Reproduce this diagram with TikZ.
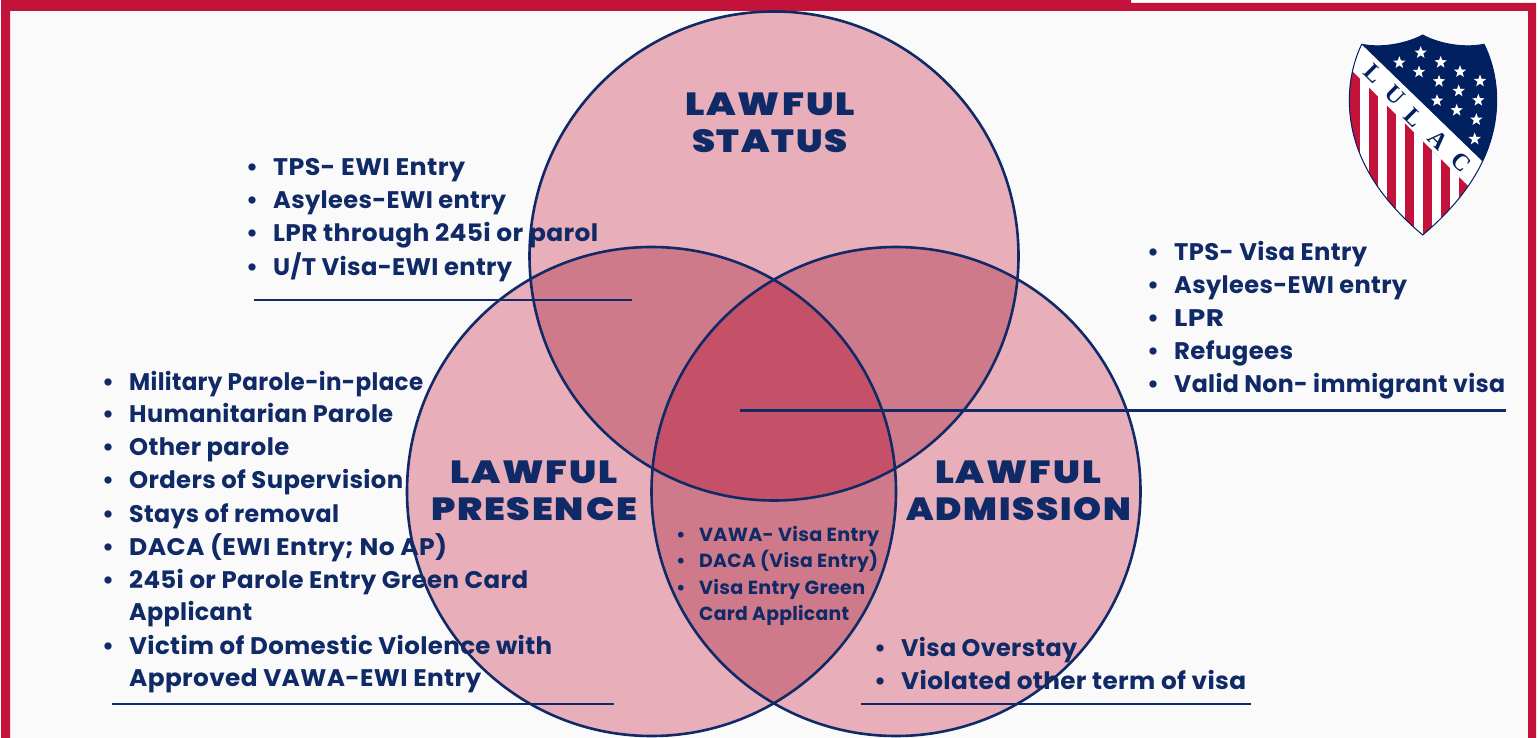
\documentclass[tikz,border=0pt]{standalone}
\usepackage{fontspec}
\setmainfont{Poppins}[BoldFont=* Bold,LetterSpace=1.5]
\newfontfamily\headfont{Poppins}[BoldFont=* Black,LetterSpace=5]
\newfontfamily\logofont{Liberation Serif}
\usetikzlibrary{shapes.geometric}
\definecolor{bord}{HTML}{C4133A}
\definecolor{paper}{HTML}{FAFAFA}
\definecolor{navy}{HTML}{0F2A66}
\definecolor{shieldblue}{HTML}{00205F}
\definecolor{one}{HTML}{E8AEB9}
\definecolor{two}{HTML}{CF7A8A}
\definecolor{three}{HTML}{C55169}
\newcounter{txt}
% [style] bullet x, baseline y, text x offset, right end x, text
\newcommand\fitw[3]{\resizebox{\dimexpr\numexpr#2-#1\relax pt\relax}{\height}{#3}}
\newcommand\lineitem[6][listtext]{\stepcounter{txt}\node[#1,name=t\arabic{txt}] at (#2,#3) {\hbox to #4pt{\hspace{-2pt}\textbullet\hfil}\fitw{\numexpr#2+#4\relax}{#5}{#6}};}
\newcommand\contline[6][listtext]{\stepcounter{txt}\node[#1,name=t\arabic{txt}] at (#2+#4,#3) {\fitw{\numexpr#2+#4\relax}{#5}{#6}};}
\newcommand\headline[5]{\node[headtext,name=#1] at (#3/2+#4/2,#2) {\fitw{#3}{#4}{#5}};}
\tikzset{
 listtext/.style={anchor=base west,inner sep=0pt,text=navy,font=\fontsize{24}{26}\selectfont\bfseries},
 smalltext/.style={anchor=base west,inner sep=0pt,text=navy,font=\fontsize{19}{20}\selectfont\bfseries},
 headtext/.style={anchor=base,inner sep=0pt,text=navy,font=\fontsize{32}{34}\headfont\bfseries},
 ring/.style={draw=navy,line width=2.6pt},
 leader/.style={draw=navy,line width=2.5pt},
 starmark/.style={star,star points=5,star point ratio=2.4,fill=white,draw=none,minimum size=13pt,inner sep=0pt},
}
\begin{document}
\begin{tikzpicture}[x=1pt,y=-1pt]
\useasboundingbox (0,0) rectangle (1538,738);
\fill[white] (0,0) rectangle (1538,738);
\fill[paper] (10,11) rectangle (1528,738);
% border
\fill[bord] (1,0) -- (1131,0) -- (1131,3) -- (1536,3) -- (1536,738) -- (1528,738) -- (1528,11) -- (10,11) -- (10,738) -- (1,738) -- cycle;
% circles
\def\ctop{(774,256) circle[radius=244.5]}
\def\cleft{(651.5,491.5) circle[radius=244.5]}
\def\cright{(896,491.5) circle[radius=244.5]}
\fill[one] \ctop; \fill[one] \cleft; \fill[one] \cright;
\begin{scope}\clip \ctop; \fill[two] \cleft; \fill[two] \cright; \end{scope}
\begin{scope}\clip \cleft; \fill[two] \cright; \end{scope}
\begin{scope}\clip \ctop; \clip \cleft; \fill[three] \cright; \end{scope}
\draw[ring] \ctop; \draw[ring] \cleft; \draw[ring] \cright;
% leaders
\coordinate (a1) at (254,300); \coordinate (a2) at (632,300);
\coordinate (b1) at (740,410.5); \coordinate (b2) at (1506,410.5);
\coordinate (c1) at (112,704); \coordinate (c2) at (614,704);
\coordinate (d1) at (861,704); \coordinate (d2) at (1251,704);
\draw[leader] (a1) -- (a2); \draw[leader] (b1) -- (b2); \draw[leader] (c1) -- (c2); \draw[leader] (d1) -- (d2);
% headings
\headline{h1}{116}{685}{855}{LAWFUL}
\headline{h2}{153}{692}{848}{STATUS}
\headline{h3}{483}{450}{618}{LAWFUL}
\headline{h4}{520}{431}{637}{PRESENCE}
\headline{h5}{483}{935}{1101}{LAWFUL}
\headline{h6}{520}{906}{1131}{ADMISSION}
% lists
\lineitem{248}{176}{25}{465}{TPS- EWI Entry}
\lineitem{248}{208}{25}{506}{Asylees-EWI entry}
\lineitem{248}{241}{25}{598}{LPR through 245i or parol}
\lineitem{248}{275}{25}{512}{U/T Visa-EWI entry}
\lineitem{1149}{260}{25}{1367}{TPS- Visa Entry}
\lineitem{1149}{293}{25}{1407}{Asylees-EWI entry}
\lineitem{1149}{326}{25}{1224}{LPR}
\lineitem{1149}{359}{25}{1293}{Refugees}
\lineitem{1149}{392}{25}{1505}{Valid Non- immigrant visa}
\lineitem{104}{390}{25}{423}{Military Parole-in-place}
\lineitem{104}{422}{25}{393}{Humanitarian Parole}
\lineitem{104}{455}{25}{289}{Other parole}
\lineitem{104}{488}{25}{403}{Orders of Supervision}
\lineitem{104}{522}{25}{339}{Stays of removal}
\lineitem{104}{555}{25}{447}{DACA (EWI Entry; No AP)}
\lineitem{104}{588}{25}{528}{245i or Parole Entry Green Card}
\contline{104}{620}{25}{252}{Applicant}
\lineitem{104}{654}{25}{552}{Victim of Domestic Violence with}
\contline{104}{686}{25}{481}{Approved VAWA-EWI Entry}
\lineitem{876}{656}{25}{1077}{Visa Overstay}
\lineitem{876}{689}{25}{1246}{Violated other term of visa}
\lineitem[smalltext]{678}{541}{21}{879}{VAWA- Visa Entry}
\lineitem[smalltext]{678}{567}{21}{878}{DACA (Visa Entry)}
\lineitem[smalltext]{678}{594}{21}{865}{Visa Entry Green}
\contline[smalltext]{678}{620}{21}{849}{Card Applicant}
% shield
\def\shieldpath{(1422.7,35) .. controls (1410,42) and (1385,49) .. (1361.7,44.3) .. controls (1354,60) and (1349.3,80) .. (1349.3,100) .. controls (1349.3,150) and (1375,195) .. (1422.7,235) .. controls (1470,195) and (1496.7,150) .. (1496.7,100) .. controls (1496.7,80) and (1492,60) .. (1484,44.3) .. controls (1460,49) and (1435,42) .. (1422.7,35) -- cycle}
\fill[white] \shieldpath;
\begin{scope}
\clip \shieldpath;
\fill[shieldblue] (1340,30) rectangle (1505,240);
% stripes field
\begin{scope}
\clip (1340,58) -- (1470,187.7) -- (1505,222) -- (1505,245) -- (1340,245) -- cycle;
\fill[white] (1340,30) rectangle (1505,245);
\fill[bord] (1340,30) rectangle (1359.5,245);
\foreach \sx in {1369,1386.7,1404.5,1422.7,1440.5,1458.5} {\fill[bord] (\sx,30) rectangle (\sx+9,245);}
\end{scope}
% band
\fill[white] (1358,41) -- (1345.3,64) -- (1470,187.7) -- (1495,185) -- (1482.7,161.7) -- cycle;
\end{scope}
\draw[shieldblue,line width=1pt] \shieldpath;
% stars
\foreach \zx/\zy [count=\i] in {362/158,298/188,422/187,357/216,480/215,540/243,417/244,476/273,535/301,411/302,470/331,529/359,524/417}
 {\node[starmark,name=s\i] at (1300+\zx/3,\zy/3) {};}
% letters
\tikzset{logoletter/.style={inner sep=0pt,text=shieldblue,rotate=-45,font=\fontsize{24}{26}\logofont\bfseries}}
\node[logoletter] (l1) at (1374,74) {L};
\node[logoletter] (l2) at (1395,95) {U};
\node[logoletter] (l3) at (1414,118) {L};
\node[logoletter] (l4) at (1438,140) {A};
\node[logoletter] (l5) at (1460.7,162.5) {C};
\end{tikzpicture}
\end{document}
